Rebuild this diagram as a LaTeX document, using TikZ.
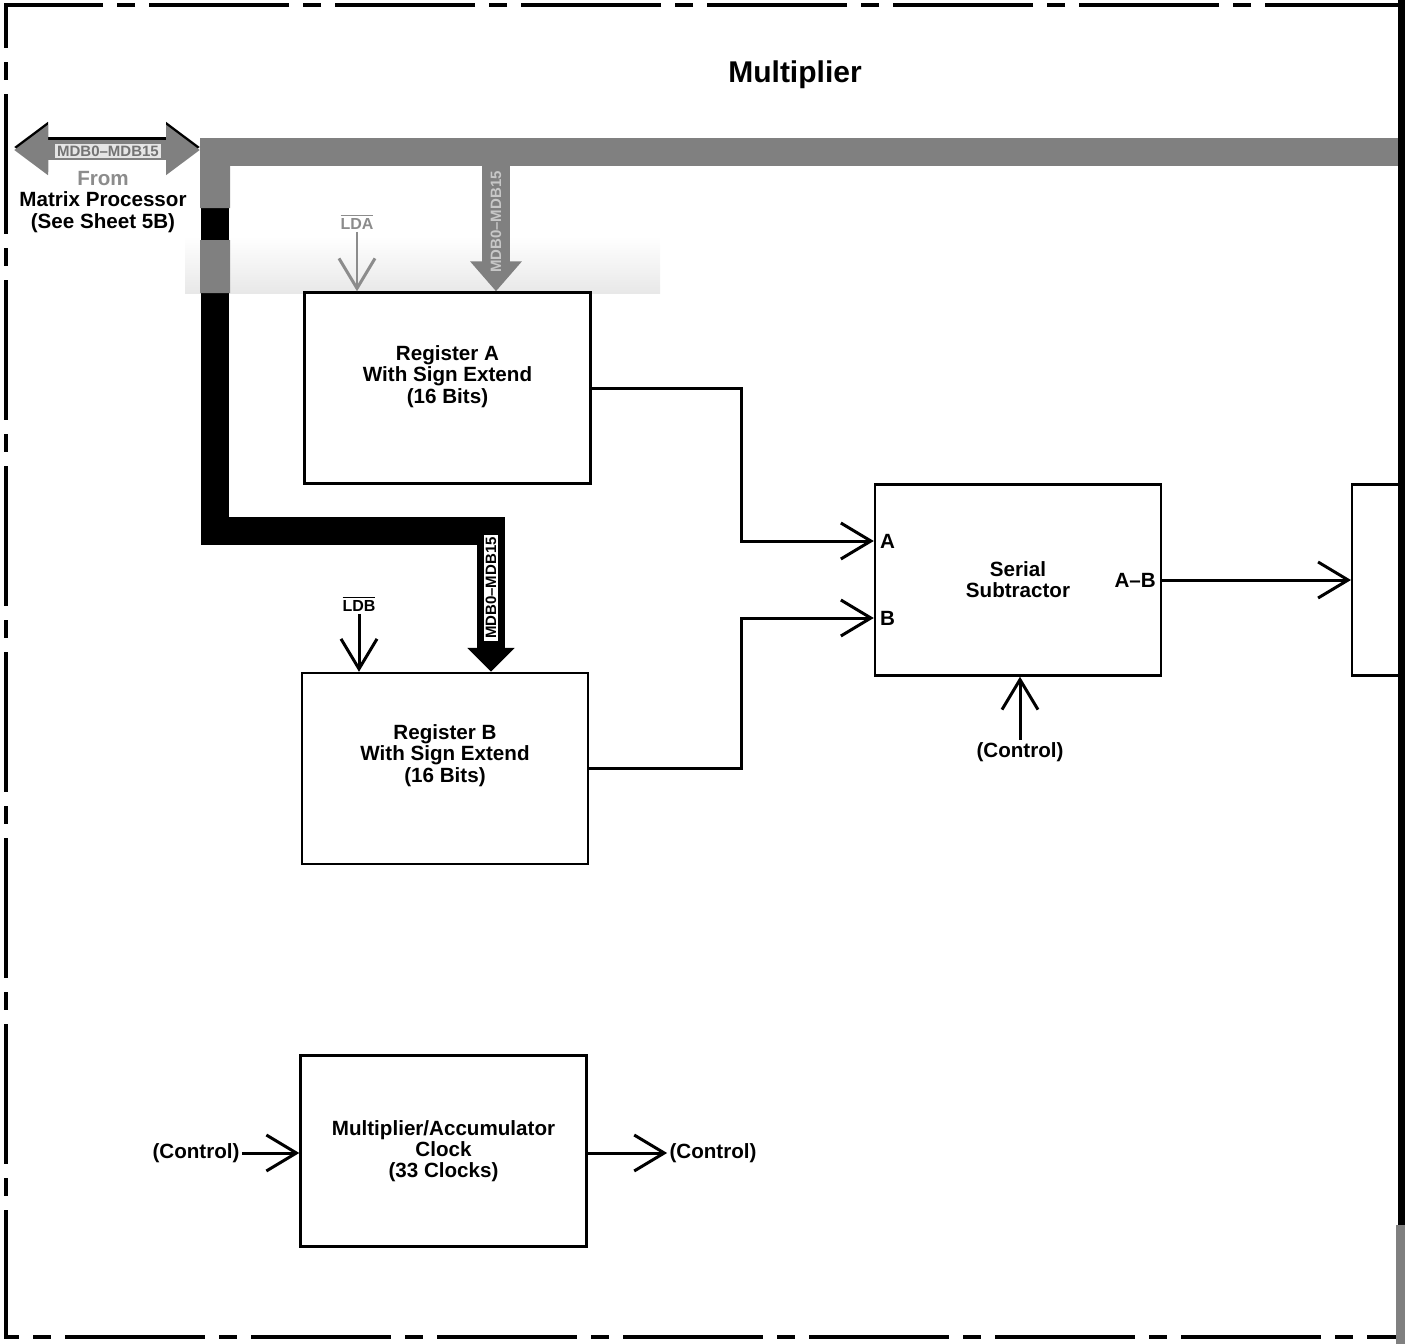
\documentclass[tikz,border=0pt]{standalone}
\usepackage{fontspec}
\setmainfont{Liberation Sans}
\usetikzlibrary{arrows.meta, positioning, calc}

\definecolor{busgray}{gray}{0.5}
\newcommand\blktext{\bfseries\fontsize{10.3}{10.6}\selectfont}

\begin{document}
\begin{tikzpicture}[
  x=0.5pt, y=-0.5pt,
  frame/.style={line width=1.7pt, dash pattern=on 70pt off 7pt on 9pt off 7pt},
  block/.style={draw, line width=1.2pt, minimum width=143pt, minimum height=95.5pt, align=center, font=\blktext},
  txt/.style={font=\blktext, inner sep=1pt, align=center},
  sml/.style={font=\bfseries\fontsize{8}{9}\selectfont, inner sep=1pt},
  buslbl/.style={font=\bfseries\fontsize{7.5}{8}\selectfont, inner sep=1pt},
  sig/.style={line width=1.5pt, -{Straight Barb[length=15pt, width=18pt, line width=1.5pt]}},
  fatbus/.style={line width=14pt, line join=miter}
]
  \useasboundingbox (0,0) rectangle (1405,1344);
  \clip (0,0) rectangle (1405,1344);

  \draw[frame] (1405,5) -- (6,5) -- (6,1337) -- (1405,1337);
  \node[font=\bfseries\fontsize{15}{16}\selectfont] (title) at (795,75) {Multiplier};

  \shade[top color=white, bottom color=black!9] (185,236) rectangle (660,293);

  \coordinate (busL) at (200,152);
  \coordinate (busE) at (1405,152);
  \coordinate (vtop) at (215,166);
  \coordinate (vbot) at (215,531);
  \coordinate (busB) at (491,531);
  \coordinate (mdbA) at (496,166);
  \coordinate (mdbL) at (14,150);
  \coordinate (mdbR) at (200,150);

  \node[block, text depth=13.5pt] (regA) at (447.5,388) {Register A\\With Sign Extend\\(16 Bits)};
  \node[block, text depth=15pt] (regB) at (445,768.5) {Register B\\With Sign Extend\\(16 Bits)};
  \node[block] (sub) at (1018,580) {Serial\\Subtractor};
  \node[block] (clk) at (443.5,1151) {Multiplier/Accumulator\\Clock\\(33 Clocks)};
  \node[block, anchor=west] (nxt) at (1351,580) {};

  \draw[fatbus, busgray] (busL) -- (busE);
  \draw[fatbus, -{Triangle[length=12pt, width=23pt]}] (vtop) -- (vbot) -- (busB) -- (busB |- regB.north);
  \fill[busgray] (200,138) rectangle (230,208) (200,240) rectangle (230,293);
  \node[buslbl, fill=white, rotate=90] (mdbBlbl) at (491,588) {MDB0–MDB15};
  \draw[fatbus, busgray, -{Triangle[length=15pt, width=25pt]}] (mdbA) -- (mdbA |- regA.north);
  \node[buslbl, text=black!22, rotate=90] (mdbAlbl) at (496,222) {MDB0–MDB15};

  \draw[line width=10pt, transform canvas={yshift=1.5pt},
    {Triangle[length=17pt, width=24pt]}-{Triangle[length=17pt, width=24pt]}] (mdbL) -- (mdbR);
  \draw[line width=10pt, busgray,
    {Triangle[length=17pt, width=24pt]}-{Triangle[length=17pt, width=24pt]}] (mdbL) -- (mdbR);
  \node[buslbl, fill=black!10, text=black!55] (mdbTlbl) at (108,151) {MDB0–MDB15};
  \node[txt] (src) at (103,202) {{\color{black!45}From}\\Matrix Processor\\(See Sheet 5B)};

  \node[sml, text=black!45] (lda) at (357,222) {$\overline{\mbox{LDA}}$};
  \draw[sig, black!45, line width=1pt] (lda.south) -- (lda.south |- regA.north);
  \node[sml] (ldb) at (359,604) {$\overline{\mbox{LDB}}$};
  \draw[sig] (ldb.south) -- (ldb.south |- regB.north);

  \coordinate (subA) at ([yshift=19.5pt]sub.west);
  \coordinate (subB) at ([yshift=-19pt]sub.west);
  \node[txt, anchor=west] (inA) at ([xshift=2pt]subA) {A};
  \node[txt, anchor=west] (inB) at ([xshift=2pt]subB) {B};
  \node[txt, anchor=east] (outAB) at ([xshift=-2pt]sub.east) {A–B};
  \draw[sig] (regA.east) -- ++(150,0) |- (subA);
  \draw[sig] (regB.east) -- ++(152,0) |- (subB);
  \draw[sig] (sub.east) -- (nxt.west);

  \node[txt] (ctlS) at (1020,752) {(Control)};
  \draw[sig] (ctlS.north) -- (ctlS.north |- sub.south);
  \node[txt] (ctlIn) at (196,1153) {(Control)};
  \draw[sig] (ctlIn.east) -- (ctlIn.east -| clk.west);
  \node[txt] (ctlOut) at (713,1153) {(Control)};
  \draw[sig] (clk.east |- ctlOut.west) -- (ctlOut.west);

  \fill (1398,0) rectangle (1405,1225);
  \fill[busgray] (1396,1225) rectangle (1405,1344);
\end{tikzpicture}
\end{document}
